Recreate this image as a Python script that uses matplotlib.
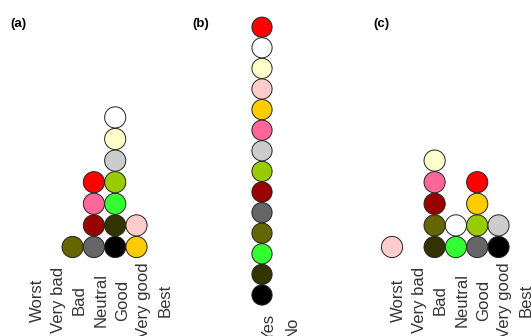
import matplotlib
matplotlib.use("Agg")
import matplotlib.pyplot as plt
from matplotlib.transforms import ScaledTranslation

plt.rcParams["font.family"] = ["Liberation Sans", "DejaVu Sans"]

# one colour per respondent, in stacking order (bottom of each column first)
respondent_colors = ["#000000", "#333300", "#33FF33", "#666600", "#666666",
                     "#990000", "#99CC00", "#CCCCCC", "#FF6699", "#FFCC00",
                     "#FFCCCC", "#FFFFCC", "#FFFFFF", "#FF0000"]

scale_levels = ["Worst", "Very bad", "Bad", "Neutral", "Good", "Very good", "Best"]
yes_no = ["Yes", "No"]

answers_a = ["Good", "Good", "Good", "Bad", "Neutral", "Neutral", "Good",
             "Good", "Neutral", "Very good", "Very good", "Good", "Good", "Neutral"]
answers_b = ["Yes"] * 14
answers_c = ["Very good", "Bad", "Neutral", "Bad", "Good", "Bad", "Good",
             "Very good", "Bad", "Good", "Worst", "Bad", "Neutral", "Good"]

W, H, DPI = 531, 336, 100
fig = plt.figure(figsize=(W / DPI, H / DPI), dpi=DPI)

# pixel geometry of each panel: span, first category x, step, base row y, row step,
# label centre y and label shift
panels = [
    dict(tag="(a)", cats=scale_levels, ans=answers_a, span=(0, 177), x0=30, dx=21.3,
         y0=247, dy=21.6, lab_y=300, lab_off=7, tag_x=10),
    dict(tag="(b)", cats=yes_no, ans=answers_b, span=(177, 354), x0=262, dx=23,
         y0=295, dy=20.6, lab_y=327, lab_off=7, tag_x=192),
    dict(tag="(c)", cats=scale_levels, ans=answers_c, span=(354, 531), x0=392, dx=21.3,
         y0=247, dy=21.6, lab_y=300, lab_off=6, tag_x=373),
]

for p in panels:
    left, right = p["span"]
    ax = fig.add_axes([left / W, 1 - p["lab_y"] / H, (right - left) / W, p["lab_y"] / H])
    ax.set_xlim((left - p["x0"]) / p["dx"], (right - p["x0"]) / p["dx"])
    ax.set_ylim((p["y0"] - p["lab_y"]) / p["dy"], p["y0"] / p["dy"])

    # stack each respondent's dot on top of the previous ones in its category
    heights = {c: 0 for c in p["cats"]}
    xs, ys = [], []
    for a in p["ans"]:
        xs.append(p["cats"].index(a))
        ys.append(heights[a])
        heights[a] += 1

    diam_pt = p["dy"] * 0.98 * 72 / DPI
    ax.scatter(xs, ys, s=diam_pt ** 2, c=respondent_colors,
               edgecolors="#222222", linewidths=0.7, zorder=3)

    ax.set_xticks(range(len(p["cats"])))
    ax.set_xticklabels(p["cats"], rotation=90, ha="center", va="center", fontsize=12,
                       color="#333333")
    ax.tick_params(axis="x", length=0, pad=0)
    shift = ScaledTranslation(p["lab_off"] / DPI, 0, fig.dpi_scale_trans)
    for lab in ax.get_xticklabels():
        lab.set_transform(lab.get_transform() + shift)
    ax.set_yticks([])
    for s in ax.spines.values():
        s.set_visible(False)
    ax.patch.set_visible(False)

    fig.text(p["tag_x"] / W, 1 - 24 / H, p["tag"], fontsize=9.5, fontweight="bold",
             ha="left", va="center")

fig.savefig("out.png", dpi=DPI)
